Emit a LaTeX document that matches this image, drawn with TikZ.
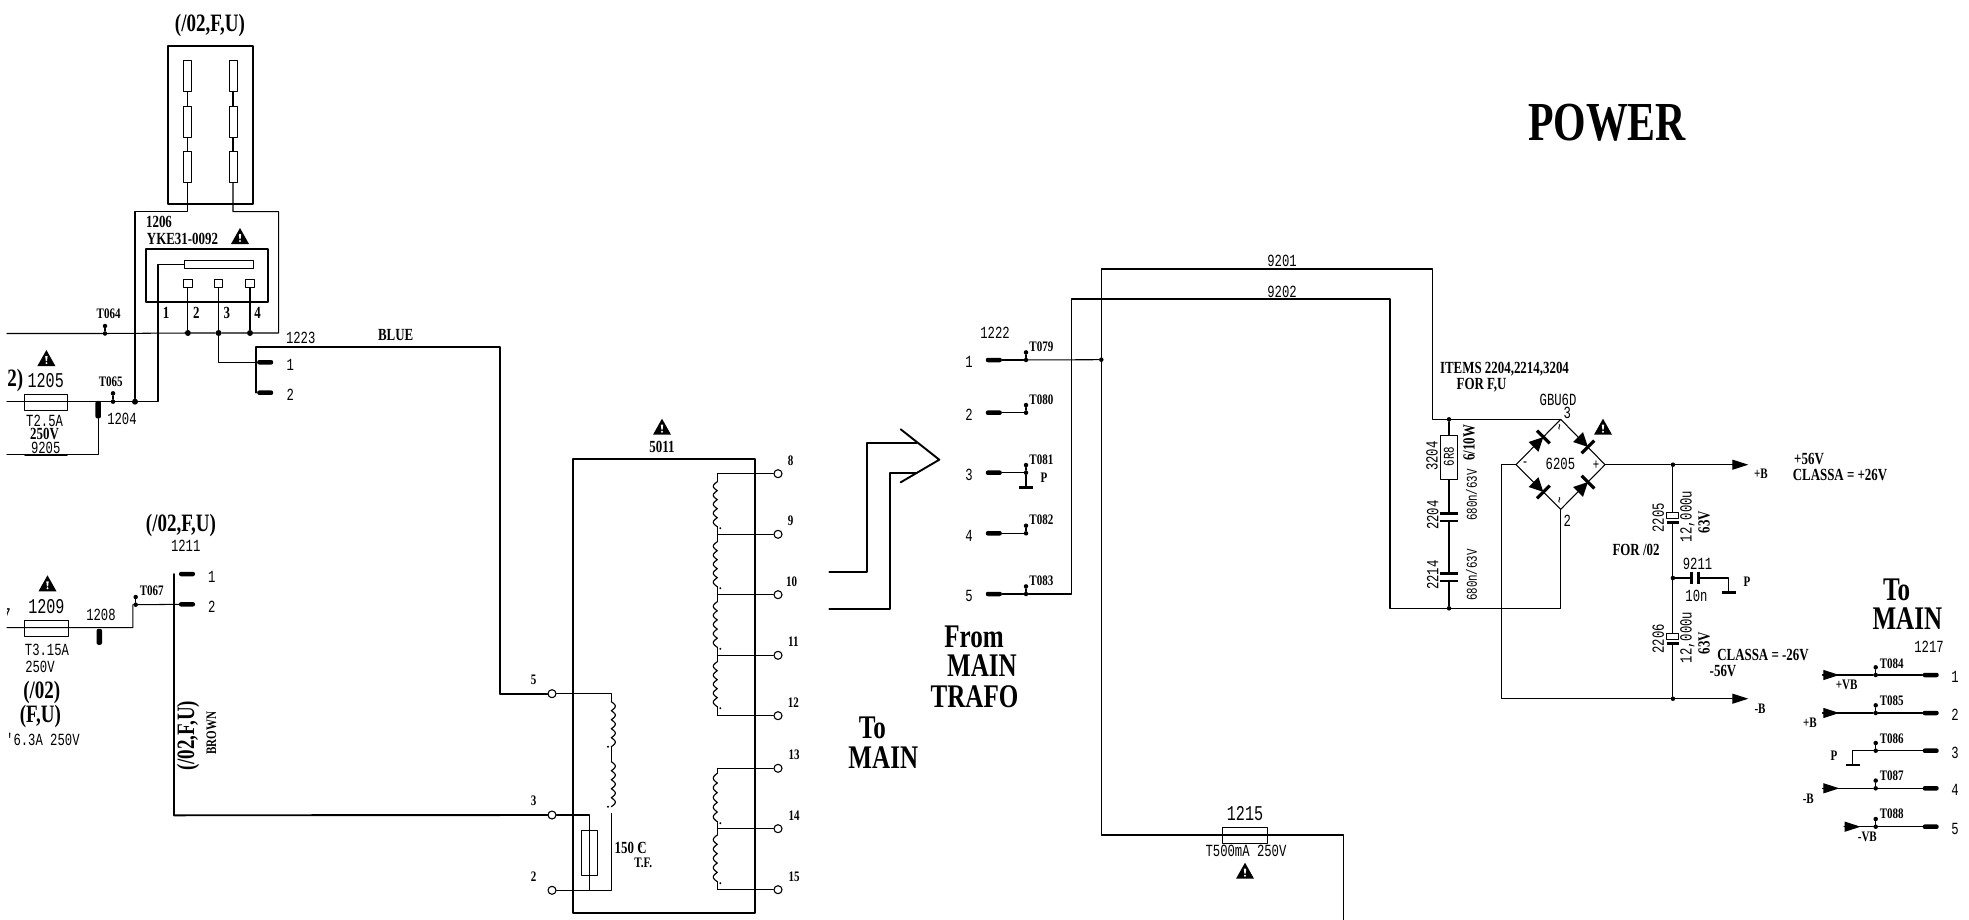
\documentclass[tikz,border=0pt]{standalone}
\usepackage{fontspec}
\newfontfamily\trafoserif[FakeStretch=.76]{Liberation Serif}
\newfontfamily\trafomono[FakeStretch=.72]{Liberation Mono}
\usetikzlibrary{arrows.meta}
\tikzset{>=latex}

\begin{document}
\begin{tikzpicture}[x=1pt, y=-1pt,
                line cap=round, line join=round,
                wire/.style={black, line width=1.05pt},
                heavy/.style={black, line width=1.9pt},
                plate/.style={black, line width=2.6pt, line cap=butt},
                head/.style={wire, -{Triangle[length=16pt,width=10pt]}},
                coil/.style={black, line width=1.15pt, variable=\t, samples=61},
                jdot/.style={circle, fill=black, inner sep=0pt, minimum size=6pt},
                tdot/.style={circle, fill=black, inner sep=0pt, minimum size=4.5pt},
                pad/.style={circle, draw=black, fill=white, line width=1.1pt, inner sep=0pt, minimum size=8pt},
                pin/.style={rectangle, rounded corners=2pt, fill=black, inner sep=0pt, minimum width=16pt, minimum height=4.5pt},
                fuse/.style={draw=black, line width=1pt, inner sep=0pt},
                resist/.style={fuse, minimum width=8pt, minimum height=31pt},
                tiny/.style={inner sep=0pt, font=\trafoserif\bfseries\fontsize{14.5}{14.5}\selectfont},
                small/.style={inner sep=0pt, font=\trafoserif\bfseries\fontsize{17}{17}\selectfont},
                mid/.style={inner sep=0pt, font=\trafoserif\bfseries\fontsize{25}{25}\selectfont},
                big/.style={inner sep=0pt, font=\trafoserif\bfseries\fontsize{33}{33}\selectfont},
                mono/.style={inner sep=0pt, font=\trafomono\fontsize{17}{17}\selectfont},
                monobig/.style={inner sep=0pt, font=\trafomono\fontsize{21}{21}\selectfont},
                monosmall/.style={inner sep=0pt, font=\trafomono\fontsize{15}{15}\selectfont},
                warn/.pic={\fill (-9,8) -- (9,8) -- (0,-8) -- cycle;
                    \fill[white] (-1.2,-2) -- (1.2,-2) -- (.6,3) -- (-.6,3) -- cycle;
                    \fill[white] (0,5) circle (1.1pt);},
                diode/.pic={\fill (-7,-7) -- (7,0) -- (-7,7) -- cycle;
                    \draw[line width=3.2pt, line cap=butt] (7,-9) -- (7,9);}]
    \useasboundingbox (0,0) rectangle (1969,920);

    % plug block on top
    \node[mid] (tPlug) at (210,25.7) {(/02,F,U)};
    \node[draw=black, line width=2pt, minimum width=84.5pt, minimum height=158.3pt, inner sep=0pt] (plug) at (210.3,124.9) {};
    \foreach \s/\x in {a/187.5,b/233}{
        \foreach \i/\y in {1/75.8,2/121.7,3/166.7}{
            \node[resist] (r\s\i) at (\x,\y) {};
        }
        \draw[wire] (r\s1) -- (r\s2) -- (r\s3);
    }

    % socket 1206
    \node[small] (l1206) at (159,221.7) {1206};
    \node[small] (lYKE) at (182.5,238.7) {YKE31-0092};
    \pic (w1206) at (240,236) {warn};
    \node[draw=black, line width=1.9pt, minimum width=121.8pt, minimum height=53.3pt, inner sep=0pt] (socket) at (207.3,275.7) {};
    \node[fuse, minimum width=69.6pt, minimum height=8pt] (bar1206) at (218.8,264.3) {};
    \coordinate (sk1) at (158,264.3);
    \foreach \n/\x/\lx in {2/187.9/196.4,3/218.6/226.8,4/250/257.5}{
        \node[fuse, minimum width=8.5pt, minimum height=8pt] (q\n) at (\x,283.3) {};
        \node[jdot] (j\n) at (\x,333) {};
        \draw[wire] (q\n) -- (j\n);
        \node[small] (n\n) at (\lx,313.3) {\n};
    }
    \node[small] (n1) at (166,313.3) {1};

    % fuse 1205 line
    \node[tdot] (tp64) at (105,333.5) {};
    \node[tdot] (tp64t) at (105,326) {};
    \node[tiny] (lT064) at (108.6,313.3) {T064};
    \coordinate (lineA) at (7,333.5);
    \coordinate (ringR) at (278.6,333);
    \coordinate (ringRt) at (278.6,211.7);
    \coordinate (ringBt) at (233,211.7);
    \coordinate (ringLt) at (135,211.7);
    \coordinate (ringAt) at (187.5,211.7);
    \draw[wire] (lineA) -- (tp64) -- (j2) -- (j3) -- (j4) -- (ringR) -- (ringRt) -- (ringBt) -- (rb3);
    \draw[wire] (tp64t) -- (tp64);
    \pic (w1205) at (46.4,358) {warn};
    \node[mid] (l2) at (15.4,380) {2)};
    \node[monobig] (l1205) at (45.7,381) {1205};
    \node[fuse, minimum width=43.5pt, minimum height=16pt] (f1205) at (45.8,402) {};
    \coordinate (lineB) at (7,401.7);
    \node[tdot] (tp65) at (113,401.7) {};
    \node[tdot] (tp65t) at (113,393.3) {};
    \node[tiny] (lT065) at (110.7,381.3) {T065};
    \node[jdot] (j1204) at (135,401.7) {};
    \coordinate (sk1b) at (158,401.7);
    \draw[wire] (lineB) -- (tp65) -- (j1204) -- (sk1b) -- (sk1) -- (bar1206);
    \draw[wire] (tp65t) -- (tp65);
    \draw[wire] (j1204) -- (ringLt) -- (ringAt) -- (ra3);
    \node[pin, rotate=90, minimum width=17.5pt, minimum height=5.5pt] (p1204) at (98.2,409.7) {};
    \coordinate (c9205) at (98.2,454.7);
    \coordinate (e9205) at (7,454.7);
    \draw[wire] (p1204) -- (c9205) -- (e9205);
    \node[mono] (l1204) at (122,419) {1204};
    \node[mono] (lT25) at (44.6,420.5) {T2.5A};
    \node[small] (l250a) at (44.6,433.5) {250V};
    \node[mono] (l9205) at (45.7,447.5) {9205};
    \coordinate (u9205a) at (25,454.7);
    \coordinate (u9205b) at (67,454.7);
    \draw[heavy] (u9205a) -- (u9205b);

    % connector 1223 and the blue wire
    \node[mono] (l1223) at (300.7,338) {1223};
    \node[small] (lBLUE) at (395.7,334.7) {BLUE};
    \node[pin] (b1) at (265.2,362.3) {};
    \node[pin] (b2) at (265.2,392.7) {};
    \node[mono] (m1) at (290.4,365) {1};
    \node[mono] (m2) at (290.4,395) {2};
    \coordinate (k3) at (218.6,362.3);
    \coordinate (blueA) at (256.4,347);
    \coordinate (blueB) at (500,347);
    \coordinate (blueC) at (500,693.7);
    \coordinate (blueD) at (256.4,392.7);
    \draw[wire] (j3) -- (k3) -- (b1);
    \draw[heavy] (blueD) -- (blueA) -- (blueB) -- (blueC);

    % fuse 1209 line and connector 1211
    \node[mid] (tFU) at (181,525.7) {(/02,F,U)};
    \node[mono] (l1211) at (185.7,546) {1211};
    \node[pin] (c1) at (187,574) {};
    \node[pin] (c2) at (187,604.3) {};
    \node[mono] (o1) at (211.8,576.7) {1};
    \node[mono] (o2) at (211.8,606.7) {2};
    \pic (w1209) at (47.5,583.3) {warn};
    \begin{scope}
        \clip (7,600) rectangle (20,630);
        \node[monobig] (l7) at (6.5,616) {7};
    \end{scope}
    \node[monobig] (l1209) at (46.4,606.7) {1209};
    \node[fuse, minimum width=44.3pt, minimum height=15.3pt] (f1209) at (46.5,628.4) {};
    \node[mono] (l1208) at (101,615.3) {1208};
    \node[pin, rotate=90, minimum width=16pt, minimum height=5.5pt] (p1208) at (99.3,636.8) {};
    \node[tiny] (lT067) at (151.8,591) {T067};
    \node[tdot] (tp67) at (135.7,604.7) {};
    \node[tdot] (tp67t) at (135.7,597) {};
    \coordinate (lineC) at (7,627.7);
    \coordinate (kinkA) at (132.9,627.7);
    \coordinate (kinkB) at (132.9,604.7);
    \draw[wire] (lineC) -- (kinkA) -- (kinkB) -- (tp67) -- (c2);
    \draw[wire] (tp67t) -- (tp67);
    \node[mono] (lT315) at (47,650.3) {T3.15A};
    \node[mono] (l250b) at (40,667.3) {250V};
    \node[mid] (l02) at (41.8,692.7) {(/02)};
    \node[mid] (lF) at (40.4,716.7) {(F,U)};
    \node[mono] (l63) at (42.9,739.3) {'6.3A 250V};
    \node[mid, rotate=90] (tFU2) at (188.2,735.7) {(/02,F,U)};
    \node[tiny, rotate=90] (lBROWN) at (211.4,733.3) {BROWN};
    \coordinate (brownA) at (174.3,574);
    \coordinate (brownB) at (174.3,815.3);
    \draw[heavy] (brownA) -- (brownB);

    % transformer 5011
    \pic (w5011) at (662,426.7) {warn};
    \node[small] (l5011) at (662,446.7) {5011};
    \node[draw=black, line width=2pt, minimum width=181.7pt, minimum height=453.7pt, inner sep=0pt] (trafo) at (664.2,685.9) {};
    % secondary pads and taps
    \foreach \n/\y/\lx/\ly in {8/473.7/790.7/460.7,9/534.3/790.7/520.7,10/594.7/791.7/581.3,11/655.3/793.3/642,
                               12/715.7/793.3/702.7,13/768.3/794/755,14/828.7/794/815.7,15/889.7/794/876.3}{
        \node[pad] (s\n) at (778,\y) {};
        \coordinate (t\n) at (717.3,\y);
        \draw[wire] (t\n) -- (s\n);
        \node[tiny] (ls\n) at (\lx,\ly) {\n};
    }
    % secondary windings
    \foreach \yA/\yB/\yT/\yN in {481.7/526.7/473.7/534.3,541.7/586.7/534.3/594.7,601.7/647.3/594.7/655.3,
                                 661.7/706.7/655.3/715.7,773.3/821.7/768.3/828.7,835/881.7/828.7/889.7}{
        \draw[coil, domain=\yA:\yB] plot ({717.3-4*abs(sin((\t-\yA)/(\yB-\yA)*900))},\t);
        \draw[wire] (717.3,\yT) -- (717.3,\yA) (717.3,\yB) -- (717.3,\yN);
        \fill (720.3,\yB+1.5) circle (1.1pt);
    }
    % primary
    \foreach \n/\y/\lx/\ly in {5/693.7/533.6/680,3/815/533.6/801,2/890.3/533.6/876.7}{
        \node[pad] (w\n) at (552,\y) {};
        \node[tiny] (lw\n) at (\lx,\ly) {\n};
    }
    \coordinate (pri5) at (611.3,693.7);
    \coordinate (pri2) at (611.3,890.3);
    \coordinate (pri3) at (589.3,815);
    \coordinate (pri2b) at (589.3,890.3);
    \coordinate (priE) at (611.3,813.3);
    \coordinate (brownC) at (552,815.3);
    \draw[heavy] (blueC) -- (w5);
    \draw[heavy] (brownB) -- (w3);
    \draw[wire] (w5) -- (pri5) -- (611.3,701.7);
    \draw[wire] (w3) -- (pri3) -- (pri2b);
    \draw[wire] (w2) -- (pri2) -- (priE);
    \foreach \yA/\yB in {701.7/746.7,761.7/806.7}{
        \draw[coil, domain=\yA:\yB] plot ({611.3+4*abs(sin((\t-\yA)/(\yB-\yA)*900))},\t);
        \fill (608,\yB) circle (1.1pt);
    }
    \draw[wire] (611.3,746.7) -- (611.3,761.7);
    \node[fuse, minimum width=16pt, minimum height=45pt] (tf) at (589,852.5) {};
    \node[small] (lTemp) at (630.7,848.3) {150 \rlap{\kern.12em\raisebox{.12em}{\fontsize{10}{10}\selectfont °}}C};
    \node[tiny] (lTF) at (643.3,863.3) {T.F.};

    % double arrow
    \coordinate (aA) at (829.3,571.7);
    \coordinate (aB) at (866.7,571.7);
    \coordinate (aC) at (866.7,443);
    \coordinate (aD) at (916.7,443);
    \coordinate (bA) at (829.3,609.3);
    \coordinate (bB) at (890,609.3);
    \coordinate (bC) at (890,472.7);
    \coordinate (bD) at (916.7,472.7);
    \coordinate (chA) at (900.7,429.3);
    \coordinate (chB) at (939.3,459.7);
    \coordinate (chC) at (900.7,482.3);
    \draw[heavy] (aA) -- (aB) -- (aC) -- (aD);
    \draw[heavy] (bA) -- (bB) -- (bC) -- (bD);
    \draw[heavy] (chA) -- (chB) -- (chC);

    \node[big] (tTo) at (872.3,728.3) {To};
    \node[big] (tMain) at (883.3,757.3) {MAIN};
    \node[big] (tFrom) at (974,636.7) {From};
    \node[big] (tMain2) at (982,665.5) {MAIN};
    \node[big] (tTrafo) at (974.5,697) {TRAFO};
    \node[inner sep=0pt, font=\trafoserif\bfseries\fontsize{55}{55}\selectfont] (tPower) at (1607,123) {POWER};

    % connector 1222
    \node[mono] (l1222) at (995,332.7) {1222};
    \foreach \n/\y/\lab/\ly in {1/360/T079/346.7,2/412.7/T080/400,3/472.7/T081/460,4/533.3/T082/520,5/594/T083/580.7}{
        \node[pin] (g\n) at (993.8,\y) {};
        \node[mono] (gn\n) at (969,\y+2.2) {\n};
        \node[tdot] (gt\n) at (1026,\y) {};
        \node[tdot] (gu\n) at (1026,\y-7.6) {};
        \node[tiny] (gl\n) at (1041.4,\ly) {\lab};
        \draw[wire] (g\n) -- (gt\n) -- (gu\n);
    }
    \coordinate (gndA) at (1026,487.3);
    \coordinate (gndB) at (1019.3,487.3);
    \coordinate (gndC) at (1033.3,487.3);
    \draw[wire] (gt3) -- (gndA);
    \draw[plate] (gndB) -- (gndC);
    \node[tiny] (lp) at (1044,477.3) {P};

    % wires 9201, 9202 and fuse 1215
    \node[tdot] (j1222) at (1101.3,359.7) {};
    \coordinate (w1a) at (1101.3,269);
    \coordinate (w1b) at (1432.7,269);
    \coordinate (w1c) at (1432.7,419.3);
    \coordinate (w2a) at (1071.3,594);
    \coordinate (w2b) at (1071.3,299);
    \coordinate (w2c) at (1390,299);
    \coordinate (w2d) at (1390,608.3);
    \coordinate (w3a) at (1101.3,835);
    \coordinate (w3b) at (1343.3,835);
    \coordinate (w3c) at (1343.3,920);
    \node[tdot] (jTop) at (1449,419.3) {};
    \node[tdot] (jBot) at (1449,608.3) {};
    \coordinate (brT) at (1560.7,419.3);
    \coordinate (brR) at (1605,464.7);
    \coordinate (brB) at (1560.7,509.3);
    \coordinate (brL) at (1516,464.7);
    \draw[wire] (g1) -- (j1222);
    \draw[wire] (gt5) -- (w2a) -- (w2b) -- (w2c) -- (w2d) -- (jBot) -- (1560.7,608.3) -- (brB);
    \draw[wire] (w3c) -- (w3b) -- (w3a) -- (w1a) -- (w1b) -- (w1c) -- (jTop) -- (brT);
    \node[mono] (l9201) at (1282,260.7) {9201};
    \node[mono] (l9202) at (1282,291.7) {9202};
    \coordinate (u1a) at (1261.7,269);
    \coordinate (u1b) at (1303.3,269);
    \coordinate (u2a) at (1261.7,299);
    \coordinate (u2b) at (1303.3,299);
    \draw[heavy] (u1a) -- (u1b) (u2a) -- (u2b);
    \node[fuse, minimum width=45pt, minimum height=16.3pt] (f1215) at (1245.2,835.2) {};
    \node[monobig] (l1215) at (1245,813.3) {1215};
    \node[mono] (lT500) at (1246,851) {T500mA 250V};
    \pic (w1215) at (1245,870.7) {warn};

    % parts between the rail and the bridge
    \node[small] (lItems) at (1504.5,369.5) {ITEMS 2204,2214,3204};
    \node[small] (lForFU) at (1481.6,385.5) {FOR F,U};
    \node[fuse, minimum width=17.3pt, minimum height=44pt, fill=white] (r3204) at (1449,457) {};
    \node[mono, rotate=90] (l3204) at (1432,456) {3204};
    \node[monosmall, rotate=90] (l6R8) at (1449,456.7) {6R8};
    \node[small, rotate=90] (l610) at (1469,442.7) {6/10W};
    \coordinate (cA) at (1449,513.3);
    \coordinate (cB) at (1449,521);
    \coordinate (cC) at (1449,573.3);
    \coordinate (cD) at (1449,581);
    \draw[wire] (jTop) -- (r3204) -- (cA) (cB) -- (cC) (cD) -- (jBot);
    \draw[plate] (1440,513.3) -- (1458,513.3) (1440,521) -- (1458,521);
    \draw[plate] (1440,573.3) -- (1458,573.3) (1440,581) -- (1458,581);
    \node[mono, rotate=90] (l2204) at (1432.7,515) {2204};
    \node[mono, rotate=90] (l2214) at (1432.7,575) {2214};
    \node[monosmall, rotate=90] (l680a) at (1471.5,495) {680n/63V};
    \node[monosmall, rotate=90] (l680b) at (1471.5,575) {680n/63V};

    % bridge 6205
    \draw[wire] (brT) -- (brR) -- (brB) -- (brL) -- cycle;
    \foreach \x/\y/\r in {1538.4/442/45,1583/442/-45,1538.4/487/-45,1583/487/45}{
        \pic[rotate=\r] at (\x,\y) {diode};
    }
    \node[mono] (l6205) at (1560.4,464.3) {6205};
    \node[monosmall] (lMinus) at (1525,464.7) {-};
    \node[monosmall] (lPlus) at (1596,464.7) {+};
    \node[monosmall, rotate=90] (lAcA) at (1561.5,427.7) {\textasciitilde};
    \node[monosmall, rotate=90] (lAcB) at (1561.5,500) {\textasciitilde};
    \node[mono] (lGBU) at (1558,399.7) {GBU6D};
    \node[mono] (l3) at (1567.3,413.3) {3};
    \node[mono] (l2b) at (1567.3,520.7) {2};
    \pic (w6205) at (1603,426.7) {warn};

    % outputs and electrolytics
    \node[tdot] (jPlus) at (1672.9,464.7) {};
    \node[tdot] (jMid) at (1672.9,578) {};
    \node[tdot] (jMinus) at (1672.9,698.7) {};
    \coordinate (outP) at (1748.3,464.7);
    \coordinate (outM) at (1748.3,698.7);
    \coordinate (negA) at (1501.6,464.7);
    \coordinate (negB) at (1501.6,698.7);
    \draw[wire] (brR) -- (jPlus);
    \draw[head] (jPlus) -- (outP);
    \draw[wire] (brL) -- (negA) -- (negB) -- (jMinus);
    \draw[head] (jMinus) -- (outM);
    \foreach \y/\nm/\val in {512.3/2205/a,633.3/2206/b}{
        \draw[wire, line cap=butt] (1666.7,\y+6) -- (1666.7,\y) -- (1678.7,\y) -- (1678.7,\y+6) -- cycle;
        \draw[plate] (1666.7,\y+10) -- (1678.7,\y+10);
        \node[mono, rotate=90] (e\val) at (1658.3,\y+5.4) {\nm};
        \node[mono, rotate=90] (v\val) at (1687.5,\y+4.2) {12,000u};
        \node[small, rotate=90] (x\val) at (1704,\y+10) {63V};
    }
    \coordinate (eA) at (1672.9,512.3);
    \coordinate (eB) at (1672.9,522.3);
    \coordinate (eC) at (1672.9,633.3);
    \coordinate (eD) at (1672.9,643.3);
    \draw[wire] (jPlus) -- (eA) (eB) -- (jMid) -- (eC) (eD) -- (jMinus);
    \coordinate (hA) at (1691.4,578);
    \coordinate (hB) at (1698.6,578);
    \coordinate (hC) at (1728.4,578);
    \coordinate (hD) at (1728.4,592.3);
    \draw[wire] (jMid) -- (hA) (hB) -- (hC) -- (hD);
    \draw[plate] (1691.4,571.7) -- (1691.4,584.3) (1698.6,571.7) -- (1698.6,584.3);
    \draw[plate] (1722,592.3) -- (1735.6,592.3);
    \node[mono] (l9211) at (1697.5,564) {9211};
    \node[mono] (l10n) at (1696.4,596) {10n};
    \node[tiny] (lP) at (1747,582) {P};
    \node[small] (lFor02) at (1636,550.3) {FOR /02};
    \node[tiny] (lPlusB) at (1761,474) {+B};
    \node[tiny] (lMinusB) at (1760,708.3) {-B};
    \node[small] (l56p) at (1809,459) {+56V};
    \node[small] (l26p) at (1840,474.8) {CLASSA = +26V};
    \node[small] (l26m) at (1763,655.3) {CLASSA = -26V};
    \node[small] (l56m) at (1723,671) {-56V};

    % connector 1217
    \node[big] (tTo2) at (1896.7,590) {To};
    \node[big] (tMain3) at (1907.3,619) {MAIN};
    \node[mono] (l1217) at (1929,647.3) {1217};
    \foreach \n/\y/\lab/\ly in {1/675/T084/663.3,2/713/T085/700.7,3/750.7/T086/738.3,4/788.3/T087/775.7,5/826.7/T088/813.3}{
        \node[pin] (h\n) at (1930.7,\y) {};
        \node[mono] (hn\n) at (1955,\y+1.8) {\n};
        \node[tdot] (ht\n) at (1875.7,\y) {};
        \node[tdot] (hu\n) at (1875.7,\y-7.7) {};
        \node[tiny] (hl\n) at (1891.7,\ly) {\lab};
        \draw[wire] (h\n) -- (ht\n) -- (hu\n);
    }
    \foreach \n/\x in {1/1822.7,2/1822.7,4/1822.7,5/1844}{
        \coordinate (ha\n) at (\x,0);
        \coordinate (hb\n) at (\x+16.6,0);
        \draw[wire] (ha\n |- ht\n) -- (ht\n);
        \draw[head] (ha\n |- ht\n) -- (hb\n |- ht\n);
    }
    \coordinate (gA) at (1852.7,750.7);
    \coordinate (gB) at (1852.7,765);
    \coordinate (gC) at (1846,765);
    \coordinate (gD) at (1860,765);
    \draw[wire] (ht3) -- (gA) -- (gB);
    \draw[plate] (gC) -- (gD);
    \node[tiny] (hVp) at (1846.7,685) {+VB};
    \node[tiny] (hBp) at (1810,722.7) {+B};
    \node[tiny] (hP) at (1834,756) {P};
    \node[tiny] (hBm) at (1808.3,798.3) {-B};
    \node[tiny] (hVm) at (1867.3,837.3) {-VB};
\end{tikzpicture}
\end{document}
